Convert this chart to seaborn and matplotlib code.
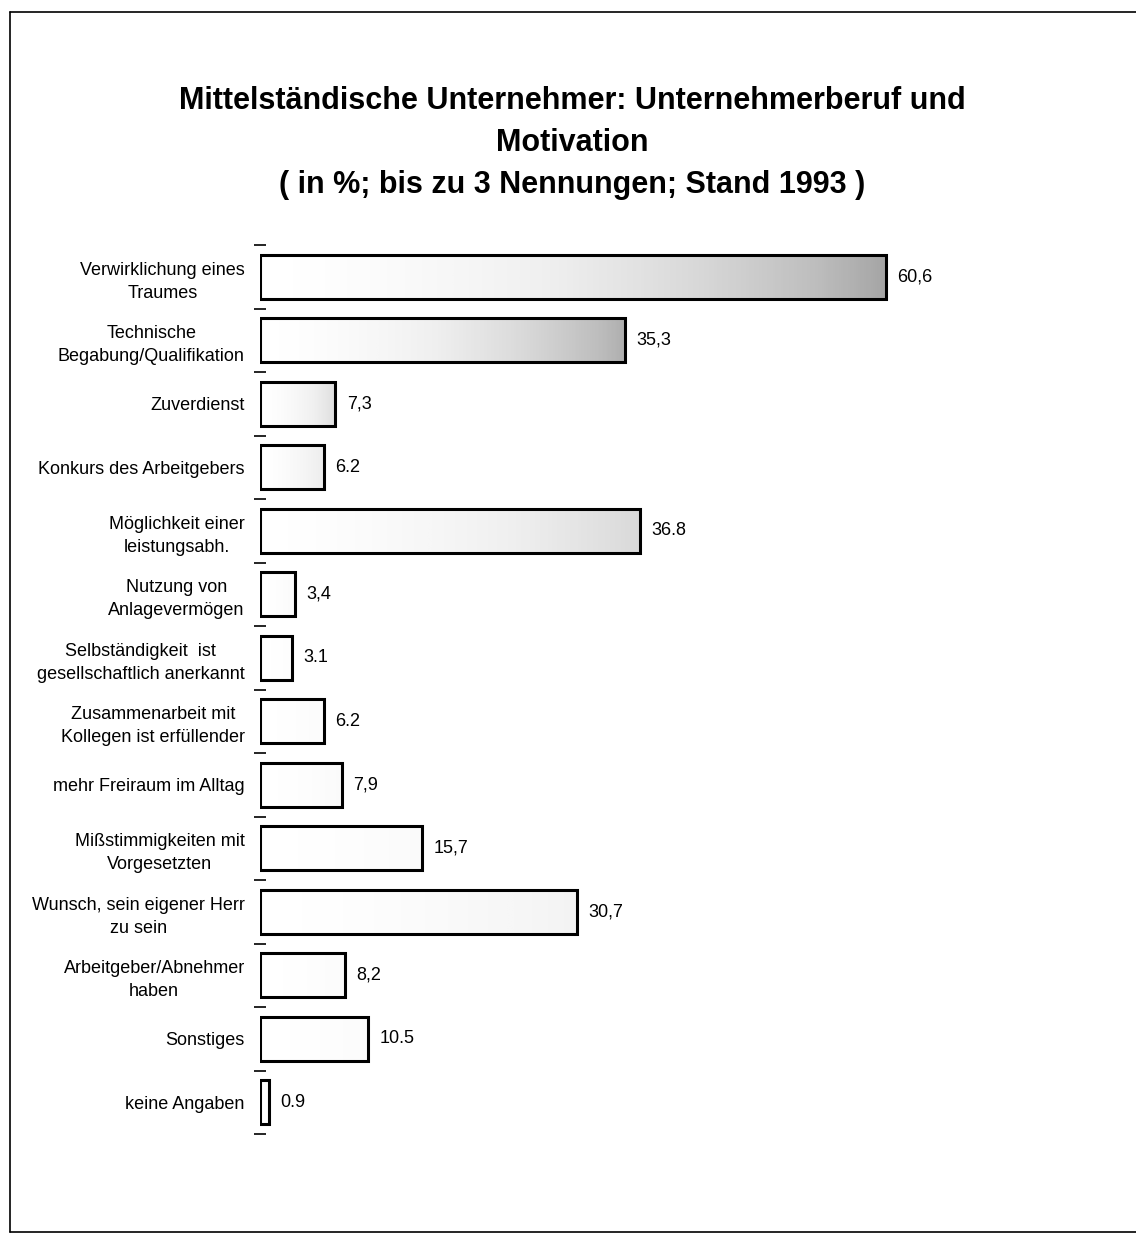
import numpy as np
import pandas as pd
import matplotlib
matplotlib.use("Agg")
import matplotlib.pyplot as plt
import seaborn as sns
from matplotlib.ticker import FixedLocator
from matplotlib.lines import Line2D

categories = [
    "Verwirklichung eines\nTraumes",
    "Technische\nBegabung/Qualifikation",
    "Zuverdienst",
    "Konkurs des Arbeitgebers",
    "Möglichkeit einer\nleistungsabh.",
    "Nutzung von\nAnlagevermögen",
    "Selbständigkeit  ist\ngesellschaftlich anerkannt",
    "Zusammenarbeit mit\nKollegen ist erfüllender",
    "mehr Freiraum im Alltag",
    "Mißstimmigkeiten mit\nVorgesetzten",
    "Wunsch, sein eigener Herr\nzu sein",
    "Arbeitgeber/Abnehmer\nhaben",
    "Sonstiges",
    "keine Angaben",
]
values = [60.6, 35.3, 7.3, 6.2, 36.8, 3.4, 3.1, 6.2, 7.9, 15.7, 30.7, 8.2, 10.5, 0.9]
value_labels = ["60,6", "35,3", "7,3", "6.2", "36.8", "3,4", "3.1", "6.2",
                "7,9", "15,7", "30,7", "8,2", "10.5", "0.9"]
title_lines = [
    "Mittelständische Unternehmer: Unternehmerberuf und",
    "Motivation",
    "( in %; bis zu 3 Nennungen; Stand 1993 )",
]
# darkness of the stippled shading at the right end of each bar
shade = [0.45, 0.42, 0.22, 0.15, 0.25, 0.04, 0.02, 0.03, 0.04, 0.04, 0.10, 0.03, 0.03, 0.05]

sns.set_theme(style="white")
plt.rcParams["font.family"] = ["Liberation Sans", "DejaVu Sans"]

W, H = 1136, 1239
fig = plt.figure(figsize=(W / 100, H / 100), dpi=100)
ax = fig.add_axes([260 / W, 105 / H, 740 / W, 889 / H])

df = pd.DataFrame({"Kategorie": categories, "Wert": values})
sns.barplot(data=df, y="Kategorie", x="Wert", orient="h", color="white",
            edgecolor="black", linewidth=2.2, width=0.69, ax=ax)

xmax = 740 / 10.33
for i, p in enumerate(ax.patches):
    x0, y0 = p.get_x(), p.get_y()
    w, h = p.get_width(), p.get_height()
    grad = np.linspace(0, 1, 256) ** 1.6 * shade[i]
    ax.imshow(grad[None, :], extent=[x0, x0 + w, y0 + h, y0], cmap="Greys",
              vmin=0, vmax=1, aspect="auto", clip_path=p, zorder=0.5,
              interpolation="bilinear")
    p.set_facecolor("none")
    p.set_zorder(2)

for i, (v, lbl) in enumerate(zip(values, value_labels)):
    ax.text(v + 1.1, i, lbl, va="center", ha="left", fontsize=13, color="black")

ax.set_xlim(0, xmax)
ax.set_ylim(13.5, -0.5)
ax.set_xlabel("")
ax.set_ylabel("")
ax.set_xticks([])
for s in ax.spines.values():
    s.set_visible(False)

ax.yaxis.set_minor_locator(FixedLocator(np.arange(-0.5, 14, 1)))
ax.tick_params(axis="y", which="major", length=0, pad=11, labelsize=13, colors="black")
ax.tick_params(axis="y", which="minor", left=True, length=9, width=1.2,
               direction="inout", color="black")
for t in ax.get_yticklabels():
    t.set_multialignment("center")
    t.set_linespacing(1.45)

for k, (line, yc) in enumerate(zip(title_lines, [101, 143, 185])):
    fig.text(572 / W, 1 - yc / H, line, ha="center", va="center",
             fontsize=22, fontweight="bold", color="black")

# scanned page frame
fig.add_artist(Line2D([10 / W, 1], [1 - 12 / H, 1 - 12 / H], transform=fig.transFigure, color="black", lw=1.2))
fig.add_artist(Line2D([10 / W, 10 / W], [1 - 12 / H, 1 - 1232 / H], transform=fig.transFigure, color="black", lw=1.2))
fig.add_artist(Line2D([10 / W, 1], [1 - 1232 / H, 1 - 1232 / H], transform=fig.transFigure, color="black", lw=1.2))

fig.savefig("out.png", dpi=100, facecolor="white")
